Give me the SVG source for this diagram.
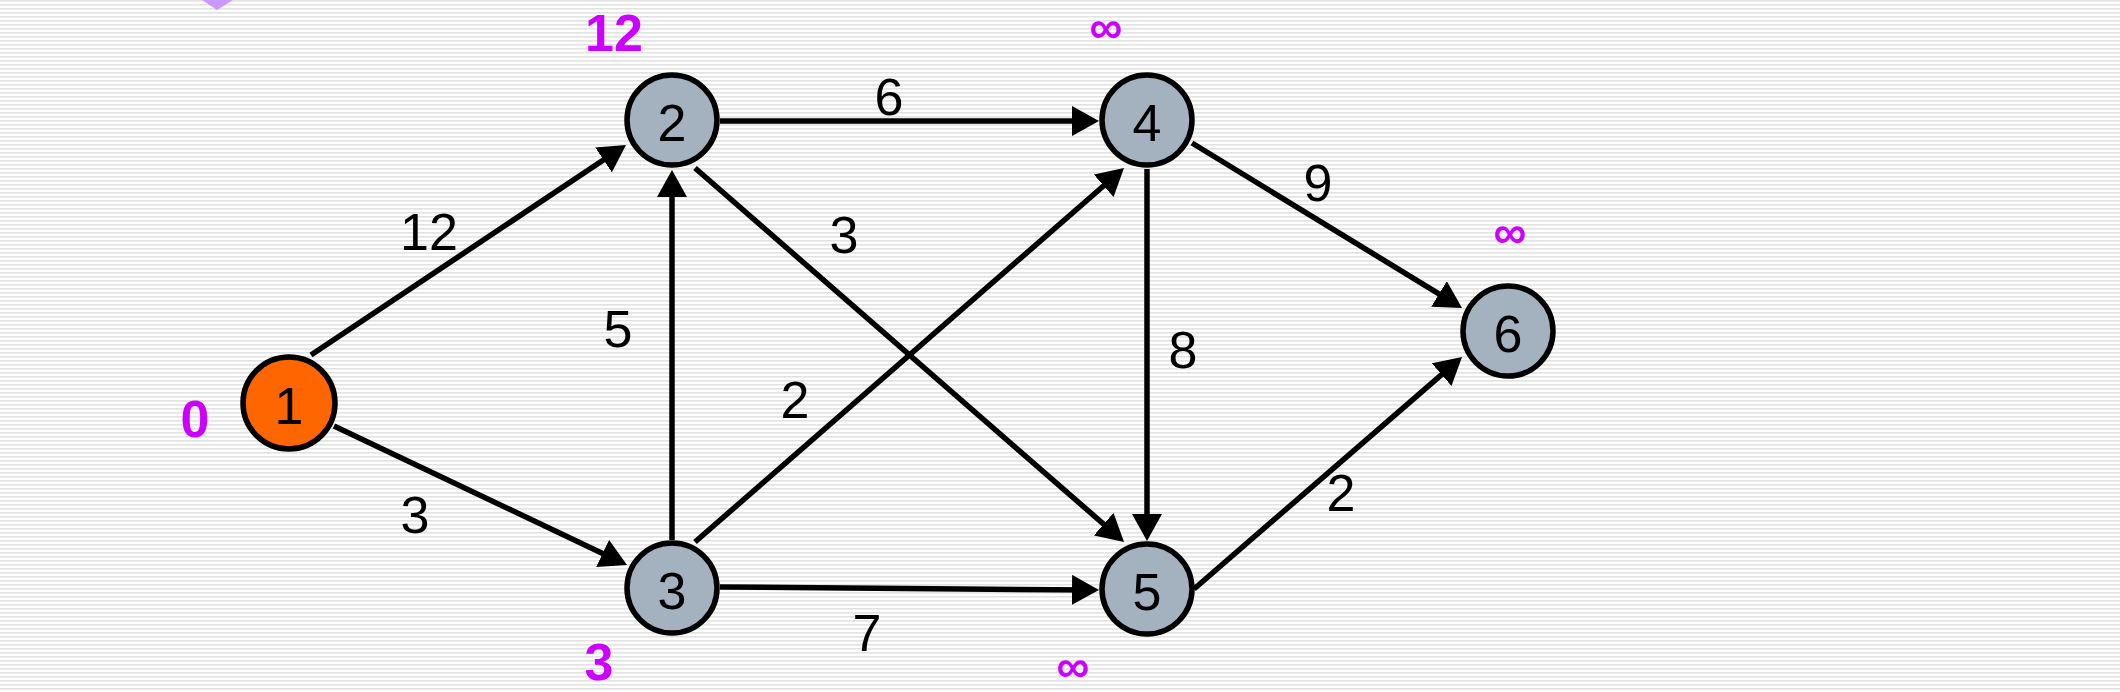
<svg xmlns="http://www.w3.org/2000/svg" width="2120" height="692" viewBox="0 0 2120 692">
<defs>
<pattern id="stripes" x="0" y="0" width="8" height="4" patternUnits="userSpaceOnUse">
<rect x="0" y="0" width="8" height="1.6" fill="#E2E2E2"/>
</pattern>
<marker id="arr" markerUnits="userSpaceOnUse" markerWidth="28" markerHeight="30" refX="21" refY="15" orient="auto">
<path d="M0,0 L27,15 L0,30 Z" fill="#000"/>
</marker>
<style>
.node circle{stroke:#000;stroke-width:5.5}
.gray{fill:#A4B2C0}
.orange{fill:#FF6600}
.nl{font-family:"Liberation Sans",Arial,sans-serif;font-size:52px;fill:#000;text-anchor:middle}
.el{font-family:"Liberation Sans",Arial,sans-serif;font-size:52px;fill:#000;text-anchor:middle}
.dist{font-family:"Liberation Sans",Arial,sans-serif;font-size:52px;font-weight:bold;fill:#CC00FF;text-anchor:middle}
.inf{font-family:"Liberation Sans",Arial,sans-serif;font-size:46px;font-weight:bold;fill:#CC00FF;text-anchor:middle}
#edges line{stroke:#000;stroke-width:5.5;marker-end:url(#arr)}
</style>
</defs>
<rect width="2120" height="692" fill="#FFFFFF"/>
<rect width="2120" height="692" fill="url(#stripes)"/>
<polygon points="202,0 233,0 217,10" fill="#CC99FF"/>
<g id="edges">
<line x1="311" y1="355" x2="621" y2="148.3"/>
<line x1="334" y1="426" x2="621.6" y2="562.4"/>
<line x1="672" y1="540" x2="672" y2="176"/>
<line x1="720" y1="121" x2="1093" y2="121"/>
<line x1="695" y1="168" x2="1119.5" y2="538"/>
<line x1="695" y1="542" x2="1119.5" y2="172"/>
<line x1="720" y1="587" x2="1093" y2="590"/>
<line x1="1147" y1="169" x2="1147" y2="535"/>
<line x1="1192" y1="143" x2="1456.9" y2="304.9"/>
<line x1="1194" y1="589" x2="1457.5" y2="360.9"/>
</g>
<g id="edge-labels">
<text class="el" x="429" y="250">12</text>
<text class="el" x="415" y="533">3</text>
<text class="el" x="618" y="347">5</text>
<text class="el" x="889" y="115">6</text>
<text class="el" x="844" y="253">3</text>
<text class="el" x="795" y="418">2</text>
<text class="el" x="867" y="651">7</text>
<text class="el" x="1318" y="201">9</text>
<text class="el" x="1183" y="368">8</text>
<text class="el" x="1341" y="511">2</text>
</g>
<g id="node1" class="node"><circle class="orange" cx="289" cy="403" r="46"/><text class="nl" x="289" y="424">1</text></g>
<g id="node2" class="node"><circle class="gray" cx="672" cy="120" r="45"/><text class="nl" x="672" y="141">2</text></g>
<g id="node3" class="node"><circle class="gray" cx="672" cy="588" r="45"/><text class="nl" x="672" y="609">3</text></g>
<g id="node4" class="node"><circle class="gray" cx="1147" cy="120" r="45"/><text class="nl" x="1147" y="141">4</text></g>
<g id="node5" class="node"><circle class="gray" cx="1147" cy="589" r="45"/><text class="nl" x="1147" y="610">5</text></g>
<g id="node6" class="node"><circle class="gray" cx="1508" cy="331" r="45"/><text class="nl" x="1508" y="352">6</text></g>
<g id="distances">
<text class="dist" x="614" y="51">12</text>
<text class="dist" x="195" y="437">0</text>
<text class="dist" x="599" y="680">3</text>
<text class="inf" x="1106" y="43">∞</text>
<text class="inf" x="1510" y="248">∞</text>
<text class="inf" x="1073" y="682">∞</text>
</g>
</svg>
